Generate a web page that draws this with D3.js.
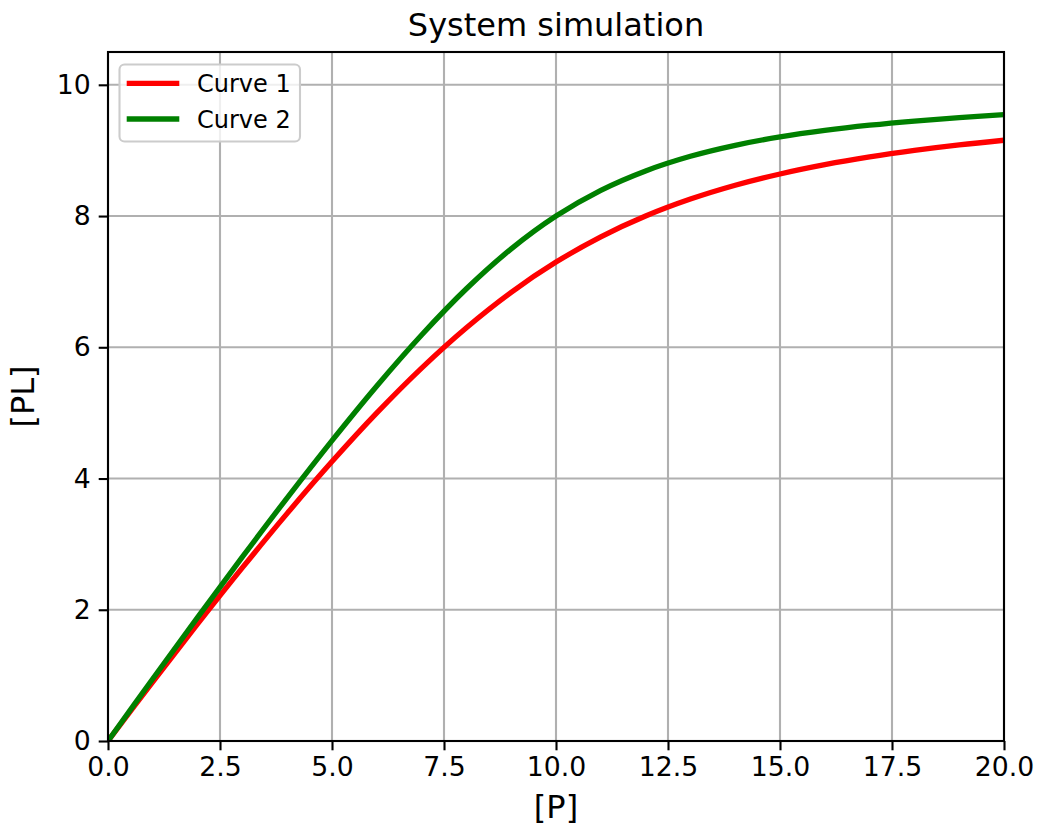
<!DOCTYPE html>
<html>
<meta charset="utf-8">
<style type="text/css">
  body {
    margin: 0;
    background: #fff;
    font-family: "DejaVu Sans", sans-serif;
  }
  .grid line {
    stroke: #b0b0b0;
    stroke-width: 2.1;
  }
</style>
<body>
<script src="https://d3js.org/d3.v7.min.js"></script>
<div id="chart"></div>
<script>
  // values
  const pValues = [0, 1, 2, 3, 4, 5, 6, 7, 8, 9, 10, 11, 12, 13, 14, 15, 16, 17, 18, 19, 20];
  const curve1 = [0, 0.901, 1.783, 2.641, 3.469, 4.258, 5.0, 5.683, 6.298, 6.838, 7.298,
    7.683, 8.0, 8.258, 8.469, 8.641, 8.783, 8.901, 9.0, 9.084, 9.155];
  const curve2 = [0, 0.948, 1.884, 2.805, 3.706, 4.578, 5.411, 6.188, 6.892, 7.5, 8.0,
    8.392, 8.688, 8.911, 9.078, 9.206, 9.305, 9.384, 9.448, 9.5, 9.545];
  const seriesNames = ["Curve 1", "Curve 2"];
  const seriesColors = ["#ff0000", "#008000"];
  const xTicks = [0, 2.5, 5, 7.5, 10, 12.5, 15, 17.5, 20];
  const yTicks = [0, 2, 4, 6, 8, 10];

  const width = 1038,
    height = 825;
  const plotLeft = 108, plotRight = 1004, plotTop = 52, plotBottom = 741;

  const svg = d3.select("#chart").append("svg")
    .attr("width", width)
    .attr("height", height);

  const x = d3.scaleLinear().domain([0, 20]).range([plotLeft, plotRight]);
  const y = d3.scaleLinear().domain([0, 10.5]).range([plotBottom, plotTop]);

  // grid
  svg.append("g").attr("class", "grid")
    .selectAll("line").data(xTicks).enter().append("line")
    .attr("x1", d => x(d)).attr("x2", d => x(d))
    .attr("y1", plotTop).attr("y2", plotBottom);
  svg.append("g").attr("class", "grid")
    .selectAll("line").data(yTicks).enter().append("line")
    .attr("x1", plotLeft).attr("x2", plotRight)
    .attr("y1", d => y(d)).attr("y2", d => y(d));

  svg.append("clipPath").attr("id", "clip")
    .append("rect")
    .attr("x", plotLeft).attr("y", plotTop)
    .attr("width", plotRight - plotLeft).attr("height", plotBottom - plotTop);

  const line = d3.line()
    .x((d, i) => x(pValues[i]))
    .y(d => y(d))
    .curve(d3.curveCatmullRom);

  [curve1, curve2].forEach((vals, k) => {
    svg.append("path")
      .datum(vals)
      .attr("clip-path", "url(#clip)")
      .attr("d", line)
      .style("fill", "none")
      .style("stroke", seriesColors[k])
      .style("stroke-width", 5.3)
      .style("stroke-linejoin", "round");
  });

  // axes (matplotlib look)
  const xAxis = d3.axisBottom(x).tickValues(xTicks).tickFormat(d3.format(".1f"))
    .tickSizeInner(9.3).tickSizeOuter(0).tickPadding(7);
  const yAxis = d3.axisLeft(y).tickValues(yTicks).tickFormat(d3.format("d"))
    .tickSizeInner(9.3).tickSizeOuter(0).tickPadding(8);

  const gx = svg.append("g").attr("transform", `translate(0,${plotBottom})`).call(xAxis);
  const gy = svg.append("g").attr("transform", `translate(${plotLeft},0)`).call(yAxis);
  [gx, gy].forEach(g => {
    g.select(".domain").remove();
    g.selectAll(".tick line").style("stroke", "#000").style("stroke-width", 2.1);
    g.selectAll(".tick text")
      .style("font-family", "DejaVu Sans")
      .style("font-size", "26.7px")
      .style("fill", "#000");
  });

  // frame
  svg.append("rect")
    .attr("x", plotLeft).attr("y", plotTop)
    .attr("width", plotRight - plotLeft).attr("height", plotBottom - plotTop)
    .style("fill", "none")
    .style("stroke", "#000")
    .style("stroke-width", 2.1);

  // title and labels
  svg.append("text")
    .attr("x", (plotLeft + plotRight) / 2).attr("y", 36)
    .attr("text-anchor", "middle")
    .style("font-size", "32px")
    .text("System simulation");
  svg.append("text")
    .attr("x", (plotLeft + plotRight) / 2).attr("y", 818)
    .attr("text-anchor", "middle")
    .style("font-size", "32px")
    .text("[P]");
  svg.append("text")
    .attr("transform", `translate(33.5,${(plotTop + plotBottom) / 2}) rotate(-90)`)
    .attr("text-anchor", "middle")
    .style("font-size", "32px")
    .text("[PL]");

  // legend
  const legend = svg.append("g");
  legend.append("rect")
    .attr("x", 119.5).attr("y", 64.5)
    .attr("width", 180.5).attr("height", 77)
    .attr("rx", 5).attr("ry", 5)
    .style("fill", "#fff").style("fill-opacity", 0.8)
    .style("stroke", "#cccccc").style("stroke-width", 2.1);
  seriesNames.forEach((name, k) => {
    const ly = 83.3 + k * 35.7;
    legend.append("line")
      .attr("x1", 126.7).attr("x2", 179.3)
      .attr("y1", ly).attr("y2", ly)
      .style("stroke", seriesColors[k])
      .style("stroke-width", 5.3);
    legend.append("text")
      .attr("x", 197).attr("y", ly + 9)
      .style("font-size", "24px")
      .text(name);
  });
</script>
</body>
</html>
